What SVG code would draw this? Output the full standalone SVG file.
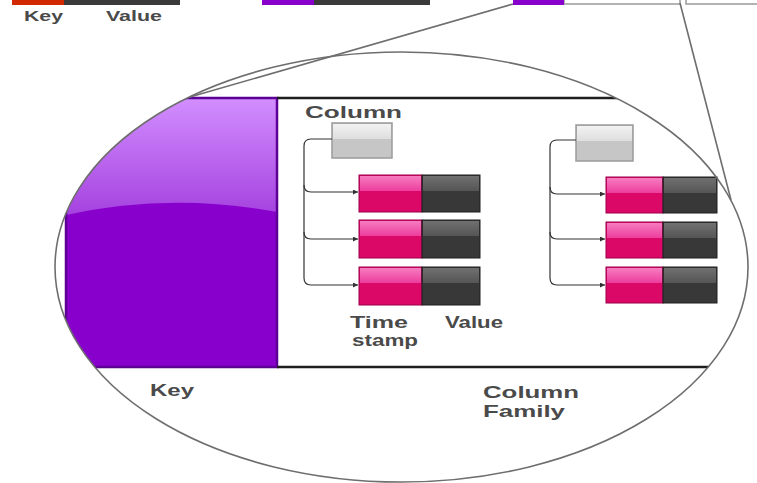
<svg xmlns="http://www.w3.org/2000/svg" width="757" height="483" viewBox="0 0 757 483">
<style>
  .lbl { font-family: "Liberation Sans", Arial, sans-serif; font-weight: bold; fill: #4a4a4a; }
  .pk { fill: #dc0868; stroke: #9a0048; stroke-width: 1; }
  .pkh { fill: url(#pinkHi); }
  .dk { fill: #383838; stroke: #1e1e1e; stroke-width: 1; }
  .dkh { fill: url(#darkHi); }
  .gb { fill: #c6c6c6; stroke: #9a9a9a; stroke-width: 1.5; }
  .gbh { fill: url(#grayHi); }
  .arr { fill: none; stroke: #333; stroke-width: 1.2; marker-end: url(#ah); }
  .zoom { fill: none; stroke: #6e6e6e; stroke-width: 1.6; }
</style>
<defs>
  <linearGradient id="keyHi" x1="0" y1="0" x2="0" y2="1">
    <stop offset="0" stop-color="#d28eff"/>
    <stop offset="1" stop-color="#a542df"/>
  </linearGradient>
  <linearGradient id="pinkHi" x1="0" y1="0" x2="0" y2="1">
    <stop offset="0" stop-color="#f77cc0"/>
    <stop offset="1" stop-color="#ec3d9c"/>
  </linearGradient>
  <linearGradient id="darkHi" x1="0" y1="0" x2="0" y2="1">
    <stop offset="0" stop-color="#707070"/>
    <stop offset="1" stop-color="#555"/>
  </linearGradient>
  <linearGradient id="grayHi" x1="0" y1="0" x2="0" y2="1">
    <stop offset="0" stop-color="#f2f2f2"/>
    <stop offset="1" stop-color="#dedede"/>
  </linearGradient>
  <clipPath id="lens">
    <ellipse cx="401.5" cy="267" rx="346.5" ry="215"/>
  </clipPath>
  <marker id="ah" viewBox="0 0 10 10" refX="10" refY="5" markerWidth="5" markerHeight="5" orient="auto" markerUnits="userSpaceOnUse">
    <path d="M0,0 L10,5 L0,10 Z" fill="#333"/>
  </marker>
</defs>

<rect x="0" y="0" width="757" height="483" fill="#fff"/>

<!-- top row strips -->
<g id="row-kv">
  <rect x="12" y="-2" width="52" height="7" fill="#d12a00"/>
  <rect x="64" y="-2" width="116" height="7" fill="#3a3a3a"/>
  <text class="lbl" x="24" y="21" font-size="15" textLength="39" lengthAdjust="spacingAndGlyphs">Key</text>
  <text class="lbl" x="106" y="21" font-size="15" textLength="56" lengthAdjust="spacingAndGlyphs">Value</text>
</g>
<g id="row-2">
  <rect x="262" y="-2" width="52" height="7" fill="#8800cc"/>
  <rect x="314" y="-2" width="116" height="7" fill="#3a3a3a"/>
</g>
<g id="row-3">
  <rect x="564" y="-2" width="116" height="6" fill="#fff" stroke="#9a9a9a" stroke-width="1.5"/>
  <rect x="686" y="-2" width="80" height="6" fill="#fff" stroke="#9a9a9a" stroke-width="1.5"/>
  <rect x="513" y="-2" width="51" height="7" fill="#8800cc"/>
</g>

<!-- magnified row -->
<g id="lens-view" clip-path="url(#lens)">
  <rect x="277" y="98" width="490" height="269" fill="#fff"/>
  <g id="key">
    <rect x="66" y="98" width="211" height="269" fill="#8800cc"/>
    <path d="M66,98 H277 V212 Q170,192 66,215 Z" fill="url(#keyHi)"/>
    <rect x="66" y="98" width="211" height="269" fill="none" stroke="#5c0096" stroke-width="2.5"/>
  </g>
  <line x1="277" y1="98" x2="767" y2="98" stroke="#1e1e1e" stroke-width="2.5"/>
  <line x1="277" y1="367" x2="767" y2="367" stroke="#1e1e1e" stroke-width="2.5"/>
</g>

<!-- column 1 -->
<g id="column-1">
  <text class="lbl" x="305" y="118" font-size="17" textLength="97" lengthAdjust="spacingAndGlyphs">Column</text>
  <rect class="gb" x="332" y="123" width="60" height="35"/>
  <rect class="gbh" x="333" y="124" width="58" height="15"/>
</g>
<g id="cell-1a">
  <rect class="pk" x="359" y="175" width="63" height="37"/><rect class="pkh" x="360" y="176" width="61" height="15"/>
  <rect class="dk" x="422" y="175" width="58" height="37"/><rect class="dkh" x="423" y="176" width="56" height="15"/>
</g>
<g id="cell-1b">
  <rect class="pk" x="359" y="220" width="63" height="38"/><rect class="pkh" x="360" y="221" width="61" height="15"/>
  <rect class="dk" x="422" y="220" width="58" height="38"/><rect class="dkh" x="423" y="221" width="56" height="15"/>
</g>
<g id="cell-1c">
  <rect class="pk" x="359" y="267" width="63" height="38"/><rect class="pkh" x="360" y="268" width="61" height="15"/>
  <rect class="dk" x="422" y="267" width="58" height="38"/><rect class="dkh" x="423" y="268" width="56" height="15"/>
</g>
<g id="labels-1">
  <text class="lbl" x="350" y="328" font-size="17" textLength="58" lengthAdjust="spacingAndGlyphs">Time</text>
  <text class="lbl" x="352" y="346" font-size="17" textLength="66" lengthAdjust="spacingAndGlyphs">stamp</text>
  <text class="lbl" x="445" y="328" font-size="17" textLength="58" lengthAdjust="spacingAndGlyphs">Value</text>
</g>

<!-- column 2 -->
<g id="column-2">
  <rect class="gb" x="576" y="125" width="57" height="36"/>
  <rect class="gbh" x="577" y="126" width="55" height="15"/>
</g>
<g id="cell-2a">
  <rect class="pk" x="606" y="177" width="57" height="36"/><rect class="pkh" x="607" y="178" width="55" height="15"/>
  <rect class="dk" x="663" y="177" width="54" height="36"/><rect class="dkh" x="664" y="178" width="52" height="15"/>
</g>
<g id="cell-2b">
  <rect class="pk" x="606" y="222" width="57" height="36"/><rect class="pkh" x="607" y="223" width="55" height="15"/>
  <rect class="dk" x="663" y="222" width="54" height="36"/><rect class="dkh" x="664" y="223" width="52" height="15"/>
</g>
<g id="cell-2c">
  <rect class="pk" x="606" y="267" width="57" height="36"/><rect class="pkh" x="607" y="268" width="55" height="15"/>
  <rect class="dk" x="663" y="267" width="54" height="36"/><rect class="dkh" x="664" y="268" width="52" height="15"/>
</g>

<!-- bottom labels -->
<g id="bottom-labels">
  <text class="lbl" x="150" y="396" font-size="17" textLength="44" lengthAdjust="spacingAndGlyphs">Key</text>
  <text class="lbl" x="483" y="398" font-size="17" textLength="96" lengthAdjust="spacingAndGlyphs">Column</text>
  <text class="lbl" x="483" y="417" font-size="17" textLength="82" lengthAdjust="spacingAndGlyphs">Family</text>
</g>

<!-- connectors -->
<g id="connectors">
  <path class="arr" d="M332,139 H311 Q304,139 304,146 V278 Q304,285 311,285 H358"/>
  <path class="arr" d="M304,185 Q304,192 311,192 H358"/>
  <path class="arr" d="M304,232 Q304,239 311,239 H358"/>
  <path class="arr" d="M576,140 H557 Q550,140 550,147 V278 Q550,285 557,285 H605"/>
  <path class="arr" d="M550,187 Q550,194 557,194 H605"/>
  <path class="arr" d="M550,232 Q550,239 557,239 H605"/>
  <line class="zoom" x1="513" y1="4" x2="190" y2="97"/>
  <line class="zoom" x1="680" y1="3" x2="731" y2="200"/>
  <ellipse class="zoom" cx="401.5" cy="267" rx="346.5" ry="215"/>
</g>
</svg>
